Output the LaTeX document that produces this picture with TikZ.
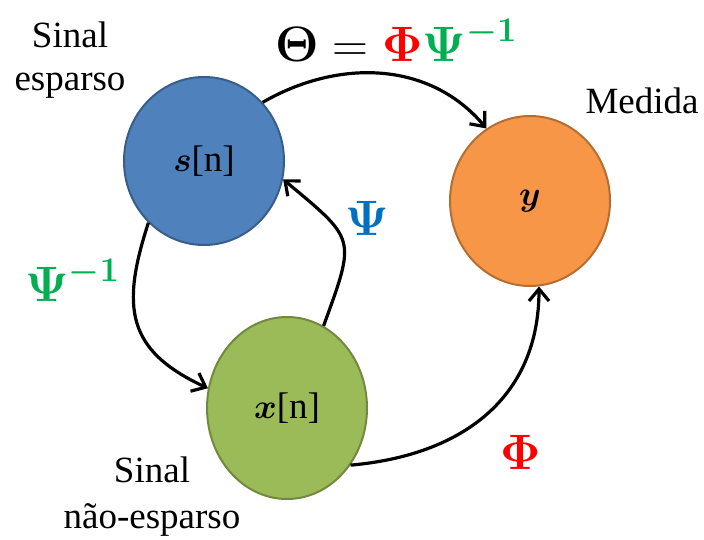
\documentclass[tikz,border=0pt]{standalone}
\usepackage{amsmath}
\usepackage{fontspec}
\setmainfont{Liberation Serif}
\usetikzlibrary{arrows.meta, positioning, shapes.geometric}
\definecolor{sinalBlue}{HTML}{4F81BD}
\definecolor{sinalBlueDark}{HTML}{385D8A}
\definecolor{sinalGreen}{HTML}{9BBB59}
\definecolor{sinalGreenDark}{HTML}{71893F}
\definecolor{medOrange}{HTML}{F79646}
\definecolor{medOrangeDark}{HTML}{B66D31}
\definecolor{opRed}{HTML}{FF0000}
\definecolor{opGreen}{HTML}{00B050}
\definecolor{opBlue}{HTML}{0070C0}
\newcommand{\invexp}{\raisebox{10pt}{\fontsize{19}{20}\selectfont$\boldsymbol{-1}$}}

\begin{document}
\begin{tikzpicture}[x=0.5pt, y=-0.5pt,
    estado/.style={ellipse, draw, line width=1pt, inner sep=0pt,
      minimum width=80pt, minimum height=84pt,
      font=\fontsize{18.5}{22}\selectfont},
    rotulo/.style={align=center, font=\fontsize{18.5}{21.5}\selectfont},
    operador/.style={font=\fontsize{24}{28}\selectfont, inner sep=0pt},
    seta/.style={-{Straight Barb[length=6pt, width=10pt]}, line width=1.6pt}]
        \useasboundingbox (0,0) rectangle (704,539);
        % estados
        \node[estado, fill=sinalBlue, draw=sinalBlueDark] (s) at (204,161) {$\boldsymbol{s}$[n]};
        \node[estado, fill=sinalGreen, draw=sinalGreenDark, minimum height=91pt] (x) at (287,408) {$\boldsymbol{x}$[n]};
        \node[estado, fill=medOrange, draw=medOrangeDark, minimum height=85pt] (y) at (530,201) {$\boldsymbol{y}$};
        % rotulos
        \node[rotulo] (esp) at (70,60) {Sinal\\esparso};
        \node[rotulo] (med) at (642,101) {Medida};
        \node[rotulo, font=\fontsize{18.5}{23}\selectfont] (nesp) at (152,497) {Sinal\\não-esparso};
        % setas
        \draw[seta] (s.45) to[out=30, in=130] (y.121);
        \draw[seta] (s.228) to[out=252, in=155, looseness=1.3] (x.166);
        \draw[seta] (x.66) to[out=70, in=-40, looseness=1.6] (s.-13);
        \draw[seta] (x.-42) to[out=5, in=-90, looseness=1.1] (y.-84);
        % operadores
        \node[operador] (theta) at (396,40) {$\boldsymbol{\Theta}={\color{opRed}\boldsymbol{\Phi}}{\color{opGreen}\boldsymbol{\Psi}\invexp}$};
        \node[operador, text=opGreen] (psiinv) at (72,280) {$\boldsymbol{\Psi}\invexp$};
        \node[operador, text=opBlue] (psi) at (367,218) {$\boldsymbol{\Psi}$};
        \node[operador, text=opRed] (phi) at (521,452) {$\boldsymbol{\Phi}$};
\end{tikzpicture}
\end{document}
